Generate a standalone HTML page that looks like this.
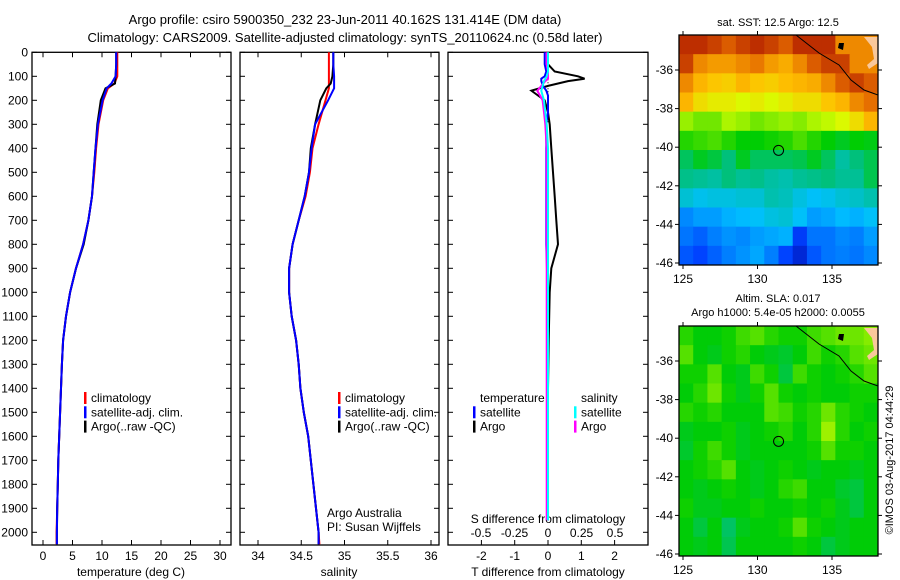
<!DOCTYPE html>
<html><head><meta charset="utf-8"><style>
body{margin:0;background:#fff;width:900px;height:580px;overflow:hidden}
svg{display:block;font-family:"Liberation Sans",sans-serif}
text{font-size:12px;fill:#000}
</style></head><body>
<svg id="c" width="900" height="580">
<text x="345" y="24" text-anchor="middle" style="font-size:13px">Argo profile: csiro 5900350_232 23-Jun-2011 40.162S 131.414E (DM data)</text>
<text x="345" y="42" text-anchor="middle" style="font-size:13px">Climatology: CARS2009. Satellite-adjusted climatology: synTS_20110624.nc (0.58d later)</text>
<g id="g"></g>
</svg>
<script>
// ----- data -----
const depths=[0,50,100,130,150,200,300,400,500,600,700,800,900,1000,1100,1200,1300,1400,1500,1600,1700,1800,1900,2000,2050];
const tempClim=[12.6,12.6,12.6,12.1,11.0,10.2,9.4,9.0,8.7,8.3,7.7,6.8,5.6,4.6,3.9,3.4,3.2,3.05,2.9,2.75,2.6,2.5,2.4,2.3,2.3];
const tempSat=[12.4,12.4,12.3,11.6,10.8,10.1,9.3,8.9,8.6,8.3,7.7,6.8,5.6,4.6,3.9,3.4,3.2,3.05,2.9,2.75,2.6,2.5,2.4,2.35,2.35];
const tempArgo=[12.4,12.4,12.3,12.2,10.6,9.8,9.2,8.9,8.6,8.3,7.7,6.9,5.6,4.6,3.9,3.4,3.2,3.05,2.9,2.75,2.6,2.5,2.4,2.35,2.35];
const salClim=[34.82,34.82,34.82,34.82,34.82,34.78,34.70,34.63,34.60,34.55,34.47,34.40,34.36,34.36,34.39,34.44,34.47,34.49,34.53,34.58,34.61,34.64,34.67,34.70,34.71];
const salSat=[34.87,34.87,34.88,34.88,34.88,34.81,34.66,34.62,34.59,34.54,34.47,34.40,34.36,34.36,34.39,34.44,34.47,34.49,34.53,34.58,34.61,34.64,34.67,34.70,34.70];
const salArgo=[34.87,34.87,34.86,34.84,34.79,34.72,34.66,34.61,34.59,34.54,34.47,34.40,34.36,34.36,34.39,34.44,34.47,34.49,34.53,34.58,34.61,34.64,34.67,34.70,34.70];
const diffDepths=[0,50,80,100,110,120,140,160,180,200,250,300,400,500,600,700,800,900,1000,1200,1400,1600,1800,1950];
const tDiffSat=[-0.1,-0.1,-0.05,-0.1,-0.2,-0.2,-0.15,-0.05,0,0,0,-0.05,-0.05,-0.05,-0.05,-0.05,-0.05,-0.03,-0.02,-0.01,0,0,0,0];
const tDiffArgo=[0,0,0.2,0.9,1.1,0.6,0,-0.5,-0.3,-0.1,0,0.05,0.1,0.15,0.2,0.25,0.3,0.1,0.05,0.02,0,0,0,0];
const sDiffSat=[0,0,0,-0.01,-0.02,-0.03,-0.04,-0.05,-0.04,-0.03,-0.02,-0.01,0,0,0,0,0,0,0,0,0,0,0,0];
const sDiffArgo=[-0.01,-0.01,0,0,0,-0.02,-0.05,-0.08,-0.06,-0.04,-0.03,-0.02,-0.01,-0.01,-0.01,-0.01,-0.01,-0.01,-0.01,-0.01,-0.01,-0.01,-0.01,-0.01];
const depthTicks=[0,100,200,300,400,500,600,700,800,900,1000,1100,1200,1300,1400,1500,1600,1700,1800,1900,2000];
const tempTicks=[0,5,10,15,20,25,30];
const salTicks=[34,34.5,35,35.5,36];
const tDiffTicks=[-2,-1,0,1,2];
const sDiffTicks=[-0.5,-0.25,0,0.25,0.5];
const sDiffLabels=["-0.5","-0.25","0","0.25","0.5"];
const lonTicks=[125,130,135];
const latTicks=[-36,-38,-40,-42,-44,-46];
const argoLon=131.414, argoLat=-40.162;
const sstGrid=[
[17,17,16.8,16.5,16.8,17,16.8,16.5,17,17,17,16,16,16],
[16.8,16,15.8,15.8,16,16.2,15.8,15.6,16,16.5,16.8,16.8,16,16],
[16,15.5,15.3,15.2,15.5,15.3,15.2,15.4,15.5,15.6,16,16.5,16.8,16.5],
[15.5,15,14.8,14.8,14.6,14.8,14.6,14.8,15,15,15.3,15.5,16,16.3],
[14.2,14,14,14.3,14.2,14,14.1,14.2,14.1,14.3,14.4,14.6,15,15.5],
[13.6,13.7,13.8,13.6,13.4,13.4,13.5,13.6,13.8,13.6,13.4,13.2,13.4,13.3],
[12.8,13.2,13,12.6,13.2,12.8,12.8,12.8,12.9,13.2,12.8,12.3,12.6,12.9],
[12.5,12.4,12.3,12.6,12.4,12.5,12.3,12.2,12.4,12.5,12.6,12.4,12.4,12.9],
[11.9,11.7,11.8,11.8,11.9,11.9,12.2,12.1,11.8,11.6,11.7,11.9,12,12.2],
[11,11.2,11.2,11.4,11.5,11.6,11.8,11.9,11.6,11.2,11.3,11.5,11.4,11.6],
[10.8,10.6,10.9,11.1,11,11.2,11.3,11.4,10.2,10.8,10.8,11,10.9,11.2],
[10.5,10.3,10.6,10.9,11.1,11.3,10.9,10.3,9.8,10.5,10.8,10.9,10.8,11]];
const slaGrid=[
[0.03,0.01,0.01,0.02,0.04,0.05,0.03,0.02,0.02,0.04,0.05,0.06,0.06,0.07],
[0.05,0.01,0,0.02,0.03,0.01,0,-0.01,0.01,0.04,0.02,0.03,0.05,0.06],
[0.02,0.02,0.05,0.01,0,0.04,0.02,-0.02,0.04,0.02,0.01,0.02,0.03,0.05],
[0.01,0.03,0.06,0.02,0,0.02,0.05,0.02,0.01,0.02,0.01,0.01,0.02,0.02],
[0.03,0.02,0.03,0.01,0.01,0.01,0.05,0.04,0.02,0.03,0.06,0.03,0.02,0.01],
[0,0.01,0.01,0.02,0,0.01,0.02,0.03,0.01,0.03,0.08,0.03,0.01,0.02],
[-0.01,0.02,0.04,0.02,0,0.01,0.01,0.01,0.01,0.02,0.05,0.02,0.02,0.01],
[0.01,0.02,0.03,0.05,0.01,0,0.01,0.02,0.01,0,0.01,0.01,0,0.01],
[0.01,0,0.01,0.02,0.01,0,0.01,0.03,0.04,0.01,0.01,-0.01,-0.02,0.01],
[0.02,0,0,0.01,0.01,0.02,0.01,0.01,0.02,0.01,0.02,0,-0.02,0.01],
[0.01,-0.02,0.01,-0.04,0,0.01,0.01,0.02,0.05,0.02,0.01,0,0.01,0.01],
[0.01,0,0.01,-0.03,0.01,0.01,0.01,0.01,0.02,0.01,-0.02,0,0.01,0.01]];

// ----- helpers -----
const NS="http://www.w3.org/2000/svg", G=document.getElementById('g');
function mk(tag,at,parent){const e=document.createElementNS(NS,tag);for(const k in at)e.setAttribute(k,at[k]);(parent||G).appendChild(e);return e;}
function txt(x,y,s,anchor,size){const t=mk('text',{x:x,y:y,'text-anchor':anchor||'start'});if(size)t.style.fontSize=size+'px';t.textContent=s;return t;}
const PT=52.3,PB=545,yD=d=>PT+d*0.24;
const xT=v=>43+v*5.9, xS=v=>258+(v-34)*86.5, xTd=v=>548+v*33.3, xSd=v=>548+v*134;
const panels=[[32,231],[240,439],[448,648]];

panels.forEach((p,i)=>{
  const r=mk('rect',{x:p[0],y:PT,width:p[1]-p[0],height:PB-PT,fill:'none',stroke:'#000','stroke-width':1.3});
  
  
  depthTicks.forEach(d=>{
    mk('line',{x1:p[0],x2:p[0]+5,y1:yD(d),y2:yD(d),stroke:'#000'});
    mk('line',{x1:p[1]-5,x2:p[1],y1:yD(d),y2:yD(d),stroke:'#000'});
  });
});
depthTicks.forEach(d=>{const t=txt(28,yD(d)+4,String(d),'end');
  
  });

function xticks(vals,fx,labels,ly,p,top){
  vals.forEach((v,i)=>{const x=fx(v);
    mk('line',{x1:x,x2:x,y1:PB-5,y2:PB,stroke:'#000'});
    if(top)mk('line',{x1:x,x2:x,y1:PT,y2:PT+5,stroke:'#000'});
    const t=txt(x,ly,labels?labels[i]:String(v),'middle');
    
    
  });
}
xticks(tempTicks,xT,null,560,0,true);
xticks(salTicks,xS,null,560,1,true);
xticks(tDiffTicks,xTd,null,560,2,false);
sDiffTicks.forEach((v,i)=>{const x=xSd(v);
  const t=txt(x,537,sDiffLabels[i],'middle');
  
  });
[[131,'temperature (deg C)','x-axis-title-temperature'],[339,'salinity','x-axis-title-salinity'],[548,'T difference from climatology','x-axis-title-t-diff']].forEach(a=>{
  const t=txt(a[0],576,a[1],'middle');
  
  });
const st=txt(548,523,'S difference from climatology','middle');



function series(xs,ds,fx,color,name,w){
  const pts=ds.map((d,i)=>fx(xs[i]).toFixed(1)+','+yD(d).toFixed(1)).join(' ');
  const l=mk('polyline',{points:pts,fill:'none',stroke:color,'stroke-width':w||2});
  
  
}
series(tempClim,depths,xT,'#f00','temperature-climatology-line');
series(tempArgo,depths,xT,'#000','temperature-argo-line');
series(tempSat,depths,xT,'#00f','temperature-satellite-line');
series(salClim,depths,xS,'#f00','salinity-climatology-line');
series(salArgo,depths,xS,'#000','salinity-argo-line');
series(salSat,depths,xS,'#00f','salinity-satellite-line');
mk('line',{x1:548,x2:548,y1:yD(100),y2:yD(300),stroke:'#000','stroke-dasharray':'1,2'});
series(tDiffArgo,diffDepths,xTd,'#000','t-diff-argo-line');
series(tDiffSat,diffDepths,xTd,'#00f','t-diff-satellite-line');
series(sDiffArgo,diffDepths,xSd,'#f0f','s-diff-argo-line');
series(sDiffSat,diffDepths,xSd,'#0ff','s-diff-satellite-line');

function legend(x,y,items,name){
  items.forEach((it,i)=>{
    const yy=y+i*14.3;
    if(it[0])mk('rect',{x:x,y:yy-10,width:2.5,height:12,fill:it[0]});
    const t=txt(x+7,yy,it[1]);
    
    
  });
}
legend(84,402,[['#f00','climatology'],['#00f','satellite-adj. clim.'],['#000','Argo(..raw -QC)']],'temperature-legend');
legend(338,402,[['#f00','climatology'],['#00f','satellite-adj. clim.'],['#000','Argo(..raw -QC)']],'salinity-legend');
legend(473,402,[[null,'temperature'],['#00f','satellite'],['#000','Argo']],'t-diff-legend');
legend(574,402,[[null,'salinity'],['#0ff','satellite'],['#f0f','Argo']],'s-diff-legend');
const a1=txt(327,517,'Argo Australia');
const a2=txt(327,531,'PI: Susan Wijffels');

// ----- maps -----
const stops=[[0,[0,0,144]],[0.15,[0,64,255]],[0.3,[0,192,255]],[0.42,[0,192,128]],[0.52,[0,205,0]],[0.65,[216,255,0]],[0.75,[255,192,0]],[0.86,[230,110,0]],[1,[160,0,0]]];
function cmap(t){t=Math.max(0,Math.min(1,t));for(let i=1;i<stops.length;i++){if(t<=stops[i][0]){const a=stops[i-1],b=stops[i],f=(t-a[0])/(b[0]-a[0]);return 'rgb('+a[1].map((c,k)=>Math.round(c+(b[1][k]-c)*f)).join(',')+')';}}return 'rgb(160,0,0)';}
function drawMap(top,grid,vmin,vmax,name){
  const L=679,R=878,B=top+230,lat0=top+35,latS=19.3;
  const fx=lon=>683+(lon-125)*14.9, fy=lat=>lat0+(-36-lat)*latS;
  const rows=grid.length,cols=grid[0].length,cw=(R-L)/cols,ch=(B-top)/rows;
  grid.forEach((row,r)=>row.forEach((v,c)=>{
    const e=mk('rect',{x:L+c*cw,y:top+r*ch,width:cw+0.5,height:ch+0.5,fill:cmap((v-vmin)/(vmax-vmin))});
    
    
  }));
  mk('path',{d:`M${L+185},${top+2} L${R},${top+2} L${R},${top+28} L${L+190},${top+34} L${L+188},${top+30} L${L+195},${top+24} L${L+193},${top+12} Z`,fill:'#f9c89b'});
  mk('path',{d:`M${L+160},${top+8} l5,0 l-1,7 l-5,-2 Z`,fill:'#000'});
  const cst=mk('polyline',{points:`${L+117},${top} ${L+140},${top+18} ${L+160},${top+30} ${L+172},${top+45} ${L+185},${top+55} ${R},${top+60}`,fill:'none',stroke:'#000','stroke-width':1});
  
  
  const fr=mk('rect',{x:L,y:top,width:R-L,height:B-top,fill:'none',stroke:'#000','stroke-width':1.3});
  
  
  lonTicks.forEach(lon=>{const x=fx(lon);
    mk('line',{x1:x,x2:x,y1:top-4,y2:top,stroke:'#000'});
    mk('line',{x1:x,x2:x,y1:B,y2:B+4,stroke:'#000'});
    const t=txt(x,B+18,String(lon),'middle');
    
    
  });
  latTicks.forEach(lat=>{const y=fy(lat);
    mk('line',{x1:L-4,x2:L,y1:y,y2:y,stroke:'#000'});
    mk('line',{x1:R,x2:R+4,y1:y,y2:y,stroke:'#000'});
    const t=txt(L-6,y+4,String(lat),'end');
    
    
  });
  const m=mk('circle',{cx:fx(argoLon),cy:fy(argoLat),r:5,fill:'none',stroke:'#000','stroke-width':1});
  
  
}
drawMap(35,sstGrid,9.0,17.5,'sst-map');
drawMap(326,slaGrid,-0.35,0.35,'sla-map');
const t1=txt(778,26,'sat. SST: 12.5 Argo: 12.5','middle',11);
const t2=txt(778,302,'Altim. SLA: 0.017','middle',11);
const t3=txt(778,316,'Argo h1000: 5.4e-05 h2000: 0.0055','middle',11);
const cp=txt(0,0,'©IMOS 03-Aug-2017 04:44:29','middle',11);
cp.setAttribute('transform','translate(893,460) rotate(-90)');


</script>
</body></html>
